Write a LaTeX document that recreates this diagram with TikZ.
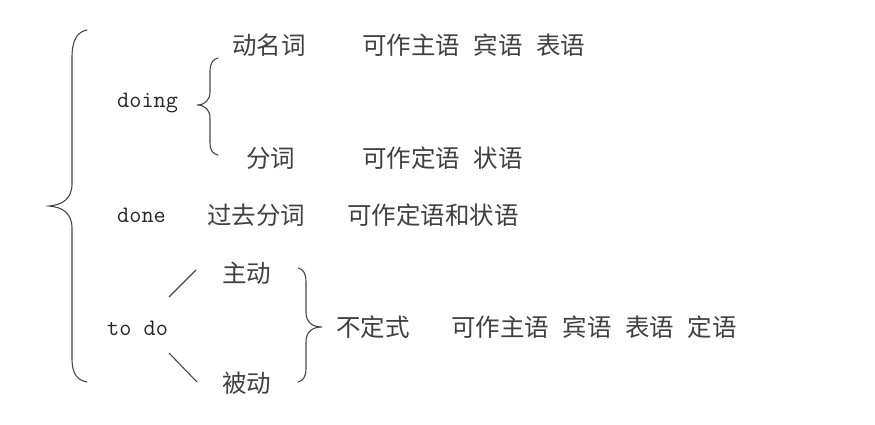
\documentclass[tikz,border=0pt]{standalone}
\usepackage{fontspec}
\newfontfamily\cjk{Noto Sans CJK SC}
\newcommand{\gap}{\hspace{0.55em}}
\tikzset{
  txt/.style={anchor=west, inner sep=0pt, text=black!75, font=\cjk\fontsize{24.5}{29}\selectfont},
  lat/.style={anchor=west, inner sep=0pt, text=black!85, font=\ttfamily\fontsize{23.6}{28}\selectfont},
  brc/.style={draw=black!72, line width=1.1pt, line cap=round},
  lnk/.style={draw=black!72, line width=1.1pt}
}
\begin{document}
\begin{tikzpicture}[x=1pt,y=-1pt]
\useasboundingbox (0,0) rectangle (875,425);
% big brace
\draw[brc] (87,30) .. controls (77,32) and (72,40) .. (72,58) -- (72,184)
  .. controls (72,199) and (62,205) .. (49,206)
  .. controls (62,207) and (72,213) .. (72,228) -- (72,358)
  .. controls (72,374) and (77,380) .. (87,382);
% doing
\node[lat] (doing) at (117,103) {doing};
\draw[brc] (218,58) .. controls (213,59) and (210,63) .. (210,72) -- (210,92)
  .. controls (210,100) and (205,105) .. (197,105)
  .. controls (205,105) and (210,110) .. (210,118) -- (210,142)
  .. controls (210,151) and (213,154) .. (218,155);
\node[txt] (dmc) at (232,45) {动名词};
\node[txt] (dmcr) at (362,45) {可作主语\gap 宾语\gap 表语};
\node[txt] (fc) at (246,158) {分词};
\node[txt] (fcr) at (362,158) {可作定语\gap 状语};
% done
\node[lat] (done) at (117,215) {done};
\node[txt] (gqfc) at (207,215) {过去分词};
\node[txt] (gqfcr) at (347,215) {可作定语和状语};
% to do
\node[lat] (todo) at (107,328) {to do};
\node[txt] (zd) at (222,273) {主动};
\node[txt] (bd) at (222,383) {被动};
\coordinate (u1) at (169,297);
\coordinate (u2) at (196,270);
\coordinate (l1) at (169,353);
\coordinate (l2) at (197,382);
\draw[lnk] (u1) -- (u2);
\draw[lnk] (l1) -- (l2);
\draw[brc] (298,268) .. controls (303,269) and (306,273) .. (306,282) -- (306,312)
  .. controls (306,321) and (311,327) .. (322,327)
  .. controls (311,327) and (306,333) .. (306,342) -- (306,368)
  .. controls (306,377) and (303,381) .. (298,382);
\node[txt] (bds) at (336,327) {不定式};
\node[txt] (bdsr) at (451,327) {可作主语\gap 宾语\gap 表语\gap 定语};
\end{tikzpicture}
\end{document}
